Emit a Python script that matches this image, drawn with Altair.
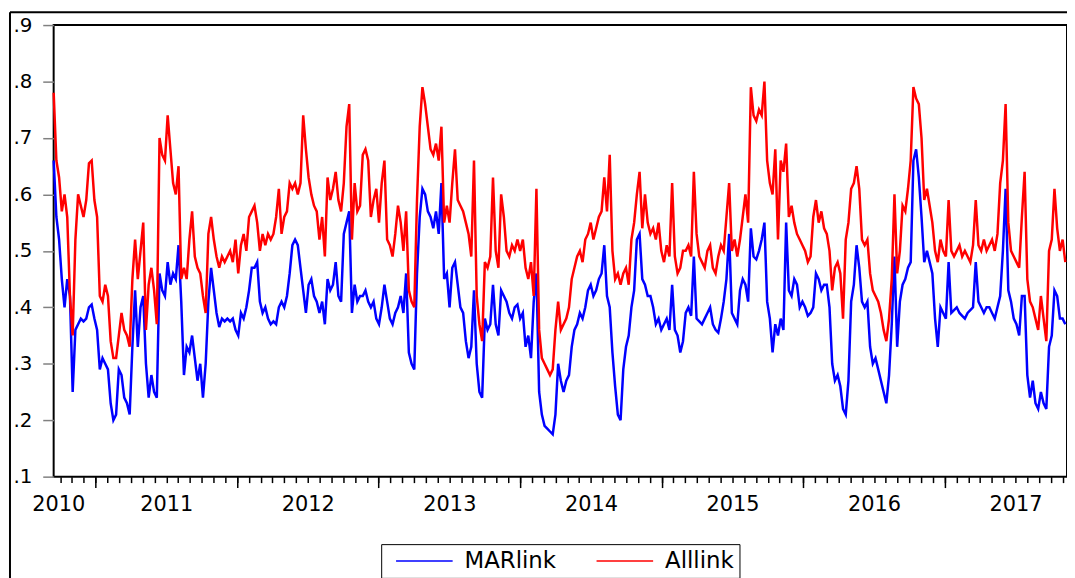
import altair as alt
import pandas as pd

# ---------------- data (weekly readings, start 2010-09-15) ----------------
START = "2010-09-15"

marlink_1 = [0.66,0.56,0.52,0.45,0.40,0.45,0.42,0.25,0.36,0.37,
             0.38,0.375,0.38,0.40,0.405,0.38,0.36,0.29,0.31,0.30,
             0.29,0.23,0.20,0.21,0.29,0.28,0.24,0.23,0.21,0.33,
             0.43,0.33,0.40,0.42,0.30,0.24,0.28,0.25,0.24,0.46,
             0.43,0.42,0.48,0.44,0.46,0.45,0.51,0.41,0.28,0.33,
             0.32,0.35,0.31,0.27,0.30,0.24,0.30,0.41,0.47,0.43,
             0.39,0.365,0.38,0.375,0.38,0.375,0.38,0.36,0.35,0.39,
             0.38,0.40,0.43,0.47,0.47,0.48,0.41,0.39,0.40,0.38,
             0.37,0.375,0.37,0.40,0.41,0.40,0.42,0.46,0.51,0.52,
             0.51,0.47,0.43,0.39]
marlink_2 = [0.44,0.45,0.42,0.41,0.39,0.41,0.37,0.45,0.43,0.44,
             0.48,0.42,0.41,0.53,0.55,0.57,0.39,0.44,0.41,0.42,
             0.42,0.43,0.41,0.40,0.41,0.38,0.37,0.40,0.44,0.41,
             0.38,0.37,0.39,0.40,0.42,0.39,0.46,0.32,0.30,0.29,
             0.46,0.56,0.61,0.60,0.57,0.56,0.54,0.57,0.53,0.62,
             0.45,0.46,0.40,0.47,0.48,0.44,0.40,0.39,0.34,0.31,
             0.33,0.43,0.30,0.25,0.24,0.38,0.36,0.37,0.44,0.37,
             0.35,0.43,0.42,0.41,0.39,0.38,0.40,0.405,0.38,0.39,
             0.33,0.35,0.31,0.41,0.46,0.25,0.21,0.19,0.185,0.18,
             0.175,0.21,0.30]
marlink_3 = [0.27,0.25,0.27,0.28,0.33,0.36,0.37,0.39,0.38,0.40,
             0.43,0.44,0.42,0.43,0.45,0.46,0.51,0.42,0.40,0.32,
             0.26,0.21,0.20,0.29,0.33,0.35,0.40,0.43,0.52,0.53,
             0.45,0.44,0.42,0.42,0.40,0.37,0.38,0.36,0.37,0.38,
             0.36,0.44,0.36,0.35,0.32,0.34,0.39,0.40,0.385,0.49,
             0.38,0.375,0.37,0.38,0.39,0.40,0.37,0.36,0.355,0.38,
             0.41,0.45,0.53,0.39,0.38,0.37,0.43,0.45,0.44,0.41,
             0.54,0.49,0.485,0.50,0.52,0.55,0.41,0.38,0.32,0.37,
             0.35,0.38,0.36,0.55,0.43,0.42,0.45,0.44,0.40,0.41,
             0.40,0.385,0.39]
marlink_4 = [0.40,0.46,0.45,0.43,0.44,0.44,0.40,0.30,0.27,0.28,
             0.26,0.22,0.21,0.27,0.41,0.44,0.51,0.47,0.41,0.40,
             0.41,0.33,0.30,0.31,0.29,0.27,0.25,0.23,0.28,0.37,
             0.49,0.33,0.41,0.44,0.45,0.47,0.48,0.66,0.68,0.63,
             0.56,0.48,0.50,0.48,0.46,0.38,0.33,0.40,0.39,0.38,
             0.48,0.39,0.395,0.40,0.39,0.385,0.38,0.39,0.395,0.40,
             0.48,0.41,0.40,0.39,0.40,0.40,0.39,0.38,0.40,0.42,
             0.50,0.61,0.43,0.41,0.38,0.37,0.35,0.42,0.42,0.28,
             0.24,0.27,0.23,0.22,0.25,0.23,0.22,0.33,0.35,0.43,
             0.42,0.38,0.38,0.37]

alllink_1 = [0.78,0.66,0.63,0.57,0.60,0.56,0.42,0.35,0.52,0.60,
             0.58,0.56,0.59,0.655,0.66,0.59,0.56,0.42,0.41,0.44,
             0.42,0.34,0.31,0.31,0.35,0.39,0.36,0.35,0.33,0.45,
             0.52,0.45,0.50,0.55,0.36,0.44,0.47,0.43,0.37,0.70,
             0.67,0.66,0.74,0.68,0.62,0.60,0.65,0.45,0.47,0.45,
             0.52,0.57,0.49,0.47,0.46,0.42,0.39,0.53,0.56,0.52,
             0.49,0.47,0.49,0.48,0.49,0.50,0.48,0.52,0.46,0.51,
             0.53,0.50,0.56,0.57,0.58,0.55,0.50,0.53,0.51,0.53,
             0.52,0.53,0.56,0.61,0.53,0.56,0.57,0.62,0.61,0.62,
             0.60,0.62,0.74,0.68]
alllink_2 = [0.63,0.60,0.58,0.57,0.52,0.56,0.49,0.63,0.59,0.61,
             0.64,0.59,0.57,0.62,0.72,0.76,0.52,0.62,0.57,0.58,
             0.67,0.68,0.66,0.56,0.59,0.61,0.55,0.62,0.66,0.52,
             0.51,0.49,0.53,0.58,0.55,0.50,0.57,0.43,0.41,0.40,
             0.59,0.72,0.79,0.76,0.72,0.68,0.67,0.69,0.66,0.72,
             0.55,0.58,0.55,0.62,0.68,0.59,0.58,0.57,0.55,0.53,
             0.49,0.66,0.42,0.37,0.34,0.48,0.47,0.49,0.63,0.50,
             0.47,0.60,0.56,0.50,0.49,0.51,0.50,0.52,0.50,0.52,
             0.47,0.45,0.48,0.42,0.61,0.36,0.31,0.30,0.29,0.28,
             0.29,0.36,0.41]
alllink_3 = [0.36,0.37,0.38,0.40,0.45,0.47,0.49,0.50,0.48,0.52,
             0.53,0.55,0.52,0.54,0.56,0.57,0.63,0.57,0.67,0.50,
             0.45,0.46,0.44,0.46,0.47,0.44,0.52,0.55,0.60,0.64,
             0.54,0.60,0.55,0.53,0.54,0.52,0.55,0.50,0.48,0.51,
             0.49,0.62,0.49,0.46,0.47,0.50,0.50,0.51,0.49,0.64,
             0.53,0.49,0.48,0.47,0.50,0.51,0.47,0.46,0.49,0.51,
             0.50,0.56,0.62,0.50,0.52,0.49,0.52,0.56,0.60,0.55,
             0.79,0.74,0.73,0.75,0.74,0.80,0.66,0.62,0.60,0.68,
             0.52,0.66,0.64,0.69,0.56,0.58,0.55,0.53,0.52,0.51,
             0.50,0.48,0.49]
alllink_4 = [0.56,0.59,0.55,0.57,0.54,0.53,0.50,0.43,0.47,0.48,
             0.46,0.38,0.52,0.55,0.61,0.62,0.65,0.61,0.52,0.51,
             0.52,0.46,0.43,0.42,0.41,0.39,0.36,0.34,0.38,0.45,
             0.60,0.46,0.50,0.58,0.57,0.61,0.66,0.79,0.77,0.76,
             0.70,0.59,0.61,0.58,0.55,0.50,0.48,0.52,0.50,0.49,
             0.59,0.50,0.49,0.50,0.51,0.49,0.50,0.49,0.48,0.51,
             0.59,0.51,0.50,0.52,0.50,0.51,0.52,0.50,0.53,0.62,
             0.66,0.76,0.55,0.50,0.49,0.48,0.47,0.56,0.64,0.45,
             0.41,0.40,0.38,0.36,0.42,0.38,0.34,0.50,0.52,0.61,
             0.54,0.50,0.52,0.48]

series_names = ["MARlink", "Alllink"]
series_colors = ["#0000ff", "#ff0000"]
y_ticks = [0.1, 0.2, 0.3, 0.4, 0.5, 0.6, 0.7, 0.8, 0.9]
years = [2011, 2012, 2013, 2014, 2015, 2016, 2017]

marlink = marlink_1 + marlink_2 + marlink_3 + marlink_4
alllink = alllink_1 + alllink_2 + alllink_3 + alllink_4

dates = pd.date_range(START, periods=len(marlink), freq="7D")


def frac_year(d):
    return d.year + (d.dayofyear - 1) / (366 if d.is_leap_year else 365)


t = [frac_year(d) for d in dates]
df = pd.concat([
    pd.DataFrame({"t": t, "v": marlink, "series": "MARlink"}),
    pd.DataFrame({"t": t, "v": alllink, "series": "Alllink"}),
])

# ---------------- layout ----------------
PLOT_W, PLOT_H = 1021, 455
X0 = 2010.704
X1 = X0 + PLOT_W / 142.6
FONT = "DejaVu Sans"

minor_ticks = [y + m / 12 for y in range(2010, 2018) for m in range(12)
               if X0 < y + m / 12 < X1]
label_pos = [2010.736] + [y + 0.5 for y in years]

xscale = alt.Scale(domain=[X0, X1], nice=False, zero=False)
yscale = alt.Scale(domain=[0.1, 0.9], nice=False, zero=False)
yaxis = alt.Axis(values=y_ticks, tickSize=11, tickColor="#808080", tickWidth=1.5,
                 labelPadding=11, labelFont=FONT, labelFontSize=20, labelColor="black",
                 domain=False, grid=False, title=None,
                 labelExpr="replace(format(datum.value, '.1f'), '0.', '.')")

color = alt.Color("series:N",
                  scale=alt.Scale(domain=series_names, range=series_colors),
                  legend=alt.Legend(title=None, orient="none", legendX=330, legendY=523,
                                    direction="horizontal", strokeColor="black",
                                    fillColor="white", padding=5,
                                    symbolType="stroke", symbolSize=3249, clipHeight=24,
                                    symbolStrokeWidth=1.5,
                                    labelFont=FONT, labelFontSize=23, labelColor="black",
                                    symbolOffset=9, labelOffset=11, columnPadding=30))

base = alt.Chart(df)

blue = base.transform_filter(alt.datum.series == "MARlink").mark_line(strokeWidth=2.5).encode(
    x=alt.X("t:Q", scale=xscale,
            axis=alt.Axis(orient="bottom", values=minor_ticks, tickSize=6, tickColor="black",
                          tickWidth=1.5, labels=False, domain=False, grid=False, title=None)),
    y=alt.Y("v:Q", scale=yscale, axis=yaxis),
    color=color,
)

red = base.transform_filter(alt.datum.series == "Alllink").mark_line(strokeWidth=2.5).encode(
    x=alt.X("t:Q", scale=xscale,
            axis=alt.Axis(orient="bottom", values=years, tickSize=11, tickColor="black",
                          tickWidth=1.5, labels=False, domain=False, grid=False, title=None)),
    y=alt.Y("v:Q", scale=yscale, axis=yaxis),
    color=color,
)

labels = base.transform_filter(alt.datum.series == "MARlink").mark_line(opacity=0).encode(
    x=alt.X("t:Q", scale=xscale,
            axis=alt.Axis(orient="bottom", values=label_pos, ticks=False, tickSize=0,
                          labelPadding=17, labelFont=FONT, labelFontSize=21,
                          labelColor="black", labelFlush=False, labelOverlap=False,
                          labelBound=False, domain=False, grid=False, title=None,
                          labelExpr="floor(datum.value)")),
    y=alt.Y("v:Q", scale=yscale, axis=yaxis),
)

one = alt.Chart(pd.DataFrame({"d": [0]}))
frame_v = one.mark_rule(color="black", strokeWidth=2).encode(
    x=alt.value(-44), y=alt.value(-13), y2=alt.value(800))
frame_h = one.mark_rule(color="black", strokeWidth=2).encode(
    x=alt.value(-44), x2=alt.value(1200), y=alt.value(-13))

chart = alt.layer(blue, red, labels, frame_v, frame_h).resolve_axis(
    x="independent").properties(
    width=PLOT_W, height=PLOT_H,
    padding={"left": 46, "top": 15, "right": 0, "bottom": 110},
    autosize=alt.AutoSizeParams(type="none"),
    background="white",
).configure_view(stroke="black", strokeWidth=2)

chart.save("out.html", embed_options={"renderer": "svg", "actions": False})
